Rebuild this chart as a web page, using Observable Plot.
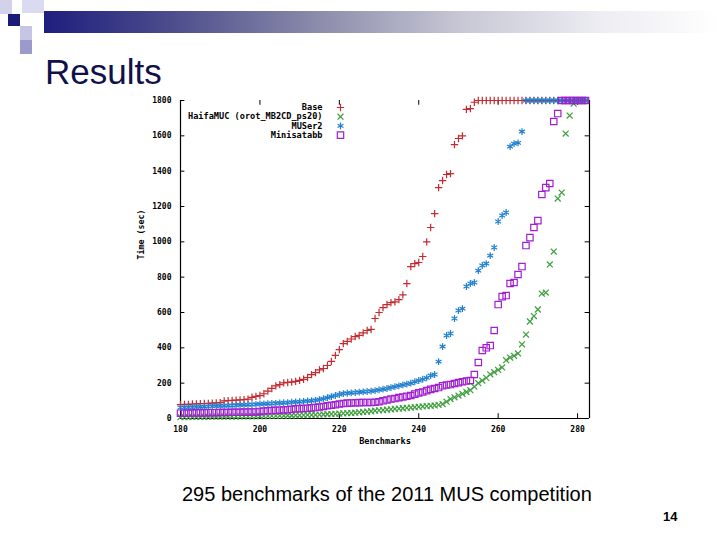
<!DOCTYPE html>
<html><head><meta charset="utf-8">
<script src="https://cdn.jsdelivr.net/npm/d3@7"></script>
<script src="https://cdn.jsdelivr.net/npm/@observablehq/plot@0.6"></script>
<style>
html,body{margin:0;padding:0;background:#fff}
body{width:720px;height:540px;position:relative;overflow:hidden;font-family:"Liberation Sans",Arial,sans-serif}
.sq{position:absolute}
#bar{position:absolute;left:44px;top:11px;width:676px;height:22px;background:linear-gradient(to right,#1e1e7e 0%,#4a4a8c 18%,#8a8aaa 40%,#c8c8d6 62%,#ececf2 82%,#ffffff 100%)}
#title{position:absolute;left:45px;top:54px;font-size:35px;line-height:1;color:#10104a}
#chart{position:absolute;left:0;top:90px}
#caption{position:absolute;left:182px;top:484px;font-size:20px;line-height:1;color:#000;white-space:nowrap}
#page{position:absolute;left:663px;top:510px;font-size:13px;line-height:1;font-weight:bold;color:#000}
</style></head>
<body>
<div class="sq" style="left:0;top:0;width:12px;height:14px;background:#d2d2ec"></div>
<div class="sq" style="left:22px;top:0;width:22px;height:13px;background:#dadaf0"></div>
<div class="sq" style="left:8px;top:14px;width:12px;height:12px;background:#1a1a78"></div>
<div class="sq" style="left:20px;top:26px;width:12px;height:14px;background:#c6c6e4"></div>
<div class="sq" style="left:20px;top:40px;width:12px;height:14px;background:#9a9acc"></div>
<div id="bar"></div>
<div id="title">Results</div>
<div id="chart"></div>
<div id="caption">295 benchmarks of the 2011 MUS competition</div>
<div id="page">14</div>
<script>
// ---- data (cactus plot: time per solved benchmark, benchmarks 180..282) ----
const firstBenchmark = 180;
const seriesNames = ["Base", "HaifaMUC (orot_MB2CD_ps20)", "MUSer2", "Minisatabb"];
const seriesColors = ["#c42a30", "#3c9e3c", "#1f7fcf", "#a11fd0"];
const seriesSymbols = ["plus", "times", "asterisk", "square"];
const seriesRadius = [2.5, 2.8, 3.2, 3.6];

const baseTimes = [
  78,80,80,82,83,84,85,86,87,88,90,
  100,101,103,104,105,107,110,
  120,125,130,140,155,170,185,
  192,202,204,206,210,216,222,
  232,248,260,275,283,300,323,
  357,390,424,436,450,464,470,
  485,498,504,566,600,628,645,
  656,660,673,700,764,860,877,
  883,917,1000,1081,1160,1307,1347,
  1381,1386,1550,1585,1600,1750,1754,
  1790,
  1800,1800,1800,1800,1800,1800,1800,1800,1800,1800,1800,1800,1800,1800,
  1800,1800,1800,1800,1800,1800,1800,1800,1800,1800,1800,1800,1800,1800
];
const haifaTimes = [
  8,8,8,9,9,9,9,10,10,10,
  10,11,11,11,11,12,12,12,12,13,
  13,14,14,15,15,16,16,17,17,18,
  18,19,20,20,21,22,23,24,25,26,
  28,29,30,31,33,35,37,39,41,44,
  46,48,50,52,54,56,58,60,62,64,
  66,68,70,72,74,77,82,95,110,120,
  130,140,150,160,180,200,215,230,250,262,
  275,289,330,345,355,368,420,475,549,580,
  617,707,713,872,945,1245,1279,1613,1715,1782,
  1800,1800,1800
];
const muser2Times = [
  62,63,64,64,65,66,67,68,69,70,
  71,72,73,74,75,76,77,78,79,80,
  82,83,84,85,86,88,89,90,92,94,
  95,97,99,101,103,107,112,118,124,130,
  136,141,143,145,147,149,151,153,155,158,
  162,166,170,175,180,185,190,195,200,208,
  215,222,230,243,249,322,407,470,481,566,
  611,622,747,764,770,837,866,877,922,968,
  1115,1149,1166,1539,1556,1560,1624,
  1800,1800,1800,1800,1800,1800,1800,1800,1800,1800,1800,1800,1800,1800,1800,1800
];
const minisatTimes = [
  30,30,31,31,32,32,32,33,33,33,
  34,34,34,35,35,35,36,36,37,37,
  40,42,44,45,46,47,48,50,52,55,
  56,57,58,60,62,65,68,72,75,78,
  82,85,87,88,89,90,91,91,91,92,
  95,100,105,110,113,118,122,126,130,138,
  145,150,158,165,170,175,185,190,192,198,
  203,208,212,215,249,317,385,400,413,498,
  645,690,696,764,770,815,860,979,1024,1081,
  1120,1268,1307,1330,1681,1726,
  1800,1800,1800,1800,1800,1800,1800
];
const seriesValues = [baseTimes, haifaTimes, muser2Times, minisatTimes];

const xDomain = [180, 283];
const yDomain = [0, 1800];
const xTicks = [180, 200, 220, 240, 260, 280];
const yTicks = [0, 200, 400, 600, 800, 1000, 1200, 1400, 1600, 1800];

// ---- build ----
const tables = seriesValues.map((vals, s) => vals.map((t, i) => ({benchmark: firstBenchmark + i, time: t, series: seriesNames[s]})));
const ink = "#000";
const marks = [];
marks.push(Plot.ruleX(xDomain, {stroke: ink, strokeWidth: 1.2}));
marks.push(Plot.ruleY([yDomain[0]], {stroke: ink, strokeWidth: 1.2}));
const xTickLen = 27, yTickLen = 1.1;
marks.push(Plot.ruleX(xTicks, {y1: yDomain[0], y2: yDomain[0] + xTickLen, stroke: ink}));
marks.push(Plot.ruleX(xTicks.filter(d => d > xDomain[0]), {y1: yDomain[1] - xTickLen, y2: yDomain[1], stroke: ink}));
marks.push(Plot.ruleY(yTicks, {x1: xDomain[0], x2: xDomain[0] + yTickLen, stroke: ink}));
marks.push(Plot.ruleY(yTicks, {x1: xDomain[1] - yTickLen, x2: xDomain[1], stroke: ink}));
tables.forEach((tbl, s) => {
  marks.push(Plot.dot(tbl, {x: "benchmark", y: "time", symbol: seriesSymbols[s], r: seriesRadius[s],
    stroke: seriesColors[s], fill: "none", strokeWidth: 1.2}));
});
seriesNames.forEach((name, s) => {
  const dy = 7 + s * 9.2;
  marks.push(Plot.text([name], {text: d => d, frameAnchor: "top-left", dx: 142, dy, textAnchor: "end", lineAnchor: "middle", fill: ink, fontSize: 8.6}));
  marks.push(Plot.dot([name], {frameAnchor: "top-left", dx: 160, dy, symbol: seriesSymbols[s], r: seriesRadius[s], stroke: seriesColors[s], fill: "none", strokeWidth: 1.2}));
});
marks.push(Plot.text(["Time (sec)"], {text: d => d, frameAnchor: "left", dx: -39, rotate: -90, fill: ink, fontSize: 8.3}));
marks.push(Plot.text(["Benchmarks"], {text: d => d, frameAnchor: "bottom", dy: 25, fill: ink, fontSize: 8.6}));

const chart = Plot.plot({
  width: 720,
  height: 370,
  marginTop: 10,
  marginBottom: 42,
  marginLeft: 180,
  marginRight: 131,
  style: {fontFamily: '"DejaVu Sans Mono", monospace', fontSize: "8px", fontWeight: "bold", background: "transparent", color: "#000", overflow: "visible"},
  x: {domain: xDomain, ticks: xTicks, tickFormat: d => String(d), tickSize: 0, tickPadding: 8, label: null},
  y: {domain: yDomain, ticks: yTicks, tickFormat: d => String(d), tickSize: 0, tickPadding: 9, label: null},
  marks
});
document.getElementById("chart").appendChild(chart);
</script>
</body></html>
